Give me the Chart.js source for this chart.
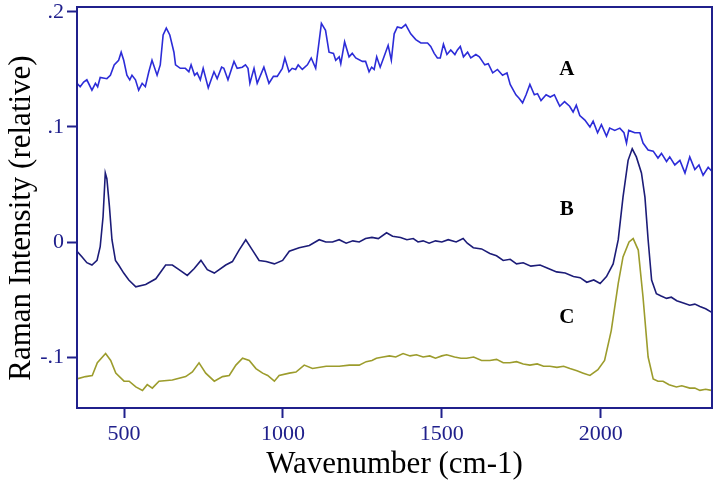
<!DOCTYPE html>
<html>
<head>
<meta charset="utf-8">
<script src="https://cdn.jsdelivr.net/npm/chart.js@4.4.1/dist/chart.umd.min.js"></script>
<style>
  html, body { margin: 0; padding: 0; background: #fff; }
  #wrap { width: 717px; height: 486px; }
</style>
</head>
<body>
<div id="wrap"><canvas id="chartCanvas" width="717" height="486"></canvas></div>
<script>
// spectrum A
const wnA = [352,362,373,383,399,410,417,425,446,457,
469,483,491,499,509,518,525,536,546,557,
567,578,588,604,614,623,633,644,657,662,
677,693,704,711,722,730,740,749,765,783,
793,807,814,827,846,856,872,882,890,896,
909,919,940,956,970,982,998,1006,1019,1029,
1040,1048,1061,1077,1089,1103,1121,1134,1145,1159,
1166,1177,1182,1194,1208,1218,1229,1250,1260,1271,
1279,1287,1295,1306,1318,1331,1341,1350,1360,1373,
1386,1402,1418,1434,1455,1465,1476,1486,1495,1505,
1516,1528,1541,1549,1558,1568,1581,1591,1607,1618,
1635,1646,1660,1675,1691,1705,1715,1733,1743,1754,
1765,1777,1791,1801,1812,1828,1841,1854,1864,1871,
1886,1902,1913,1923,1934,1950,1966,1976,1990,2002,
2018,2028,2044,2060,2073,2081,2088,2107,2123,2133,
2149,2165,2180,2191,2207,2217,2233,2249,2265,2280,
2296,2309,2322,2338,2348];
const ramanA = [.138,.135,.139,.141,.132,.138,.135,.143,.142,.145,
.154,.158,.165,.158,.145,.141,.145,.141,.132,.138,
.135,.148,.158,.145,.154,.180,.186,.180,.165,.154,
.151,.151,.148,.154,.145,.147,.141,.151,.134,.148,
.142,.152,.151,.141,.157,.151,.152,.154,.151,.138,
.151,.138,.152,.138,.144,.144,.151,.160,.148,.151,
.150,.154,.150,.154,.160,.151,.190,.184,.165,.164,
.158,.161,.155,.174,.161,.164,.160,.157,.157,.148,
.152,.150,.161,.152,.161,.171,.158,.181,.187,.186,
.189,.181,.176,.173,.173,.170,.164,.160,.160,.172,
.163,.167,.163,.167,.170,.161,.165,.160,.163,.161,
.154,.155,.147,.150,.145,.147,.137,.128,.125,.121,
.128,.137,.128,.129,.123,.128,.126,.128,.122,.118,
.122,.118,.113,.119,.110,.106,.100,.105,.095,.102,
.092,.099,.097,.099,.095,.086,.097,.095,.095,.086,
.080,.079,.073,.077,.070,.074,.067,.071,.060,.074,
.063,.067,.058,.065,.062];

// spectrum B
const wnB = [352,368,383,399,415,425,434,441,446,454,
462,473,483,499,515,537,568,600,631,652,
673,699,721,742,762,784,820,841,862,883,
904,925,947,973,999,1020,1051,1083,1114,1135,
1156,1177,1199,1220,1240,1260,1280,1300,1326,1345,
1370,1390,1410,1425,1441,1460,1480,1500,1520,1545,
1567,1580,1599,1625,1651,1672,1693,1715,1735,1756,
1780,1809,1835,1861,1888,1914,1935,1956,1978,1998,
2018,2039,2055,2070,2086,2099,2112,2128,2139,2149,
2160,2175,2190,2207,2222,2239,2260,2280,2296,2312,
2330,2348];
const ramanB = [-.008,-.013,-.018,-.020,-.016,-.004,.022,.060,.055,.031,
.002,-.016,-.020,-.027,-.033,-.039,-.037,-.032,-.020,-.020,
-.024,-.029,-.023,-.016,-.024,-.027,-.020,-.017,-.007,.002,
-.007,-.016,-.017,-.019,-.016,-.008,-.005,-.003,.002,.000,
.000,.002,-.001,.001,.000,.003,.004,.003,.008,.005,
.004,.002,.003,.000,.001,-.001,.001,.000,.002,.000,
.003,-.001,-.005,-.006,-.010,-.012,-.016,-.015,-.019,-.018,
-.021,-.020,-.023,-.026,-.027,-.030,-.031,-.035,-.033,-.036,
-.030,-.019,.002,.039,.071,.081,.074,.060,.039,.002,
-.033,-.045,-.047,-.049,-.048,-.051,-.053,-.055,-.054,-.056,
-.058,-.061];

// spectrum C
const wnC = [352,379,400,416,442,458,474,500,516,537,
558,573,589,610,652,694,715,736,757,784,
810,831,852,873,894,915,936,952,973,988,
1020,1041,1067,1093,1136,1177,1209,1240,1262,1280,
1294,1315,1335,1355,1378,1400,1420,1441,1462,1480,
1500,1515,1540,1560,1578,1600,1625,1651,1672,1693,
1714,1735,1756,1777,1800,1820,1840,1862,1883,1903,
1925,1945,1966,1991,2012,2033,2055,2070,2089,2102,
2118,2133,2149,2165,2180,2196,2215,2238,2255,2280,
2296,2312,2330,2348];
const ramanC = [-.119,-.117,-.116,-.105,-.097,-.103,-.114,-.121,-.121,-.126,
-.129,-.124,-.127,-.121,-.120,-.117,-.113,-.105,-.114,-.121,
-.117,-.116,-.107,-.101,-.103,-.110,-.114,-.116,-.121,-.116,
-.114,-.113,-.107,-.110,-.108,-.108,-.107,-.107,-.104,-.103,
-.101,-.100,-.099,-.100,-.097,-.099,-.098,-.100,-.099,-.101,
-.099,-.098,-.100,-.101,-.101,-.100,-.103,-.103,-.102,-.105,
-.105,-.104,-.106,-.107,-.106,-.108,-.108,-.109,-.108,-.110,
-.112,-.114,-.116,-.111,-.103,-.077,-.036,-.013,.000,.003,
-.007,-.048,-.100,-.119,-.121,-.121,-.124,-.126,-.125,-.127,
-.127,-.129,-.128,-.129];

const xTicks = [500, 1000, 1500, 2000];
const yTicks = [-0.1, 0, 0.1, 0.2];
const seriesNames = ["A", "B", "C"];
const yTitle = "Raman Intensity (relative)";

const navy = "#20208c";
const serif = "Liberation Serif";

function toPoints(xs, ys) {
    return xs.map((x, i) => ({ x: x, y: ys[i] }));
}

function yLabel(v) {
    if (Math.abs(v) < 1e-9) return "0";
    let s = Math.abs(v).toFixed(1).replace(/^0/, "");
    return (v < 0 ? "-" : "") + s;
}

// frame round the plot, the A/B/C letters and the y title
const framePlugin = {
    id: "frame",
    afterDraw(chart) {
        const ctx = chart.ctx;
        const a = chart.chartArea;
        ctx.save();
        ctx.strokeStyle = navy;
        ctx.lineWidth = 2;
        ctx.strokeRect(a.left, a.top, a.right - a.left, a.bottom - a.top);

        const xs = chart.scales.x, ys = chart.scales.y;
        const labelPos = [[1893, 0.150], [1893, 0.028], [1893, -0.066]];
        ctx.fillStyle = "#000";
        ctx.font = "bold 21px '" + serif + "'";
        ctx.textAlign = "center";
        ctx.textBaseline = "middle";
        seriesNames.forEach((n, i) => {
            ctx.fillText(n, xs.getPixelForValue(labelPos[i][0]), ys.getPixelForValue(labelPos[i][1]));
        });

        ctx.translate(22, 218);
        ctx.rotate(-Math.PI / 2);
        ctx.font = "31px '" + serif + "'";
        ctx.fillText(yTitle, 0, 0);
        ctx.restore();
    }
};

const ctx = document.getElementById("chartCanvas");

new Chart(ctx, {
    type: "line",
    data: {
        datasets: [
            { label: "A", data: toPoints(wnA, ramanA), borderColor: "#2c2cd8", borderWidth: 1.6 },
            { label: "B", data: toPoints(wnB, ramanB), borderColor: "#1c1c78", borderWidth: 1.6 },
            { label: "C", data: toPoints(wnC, ramanC), borderColor: "#9c9c2c", borderWidth: 1.6 }
        ]
    },
    options: {
        responsive: false,
        animation: false,
        elements: { point: { radius: 0 }, line: { tension: 0 } },
        layout: { padding: { top: 7, right: 5, left: 0, bottom: 0 } },
        plugins: { legend: { display: false }, tooltip: { enabled: false } },
        scales: {
            x: {
                type: "linear",
                min: 352,
                max: 2350,
                afterBuildTicks: s => { s.ticks = xTicks.map(v => ({ value: v })); },
                afterFit: s => { s.height = 78; s.paddingLeft = 0; s.paddingRight = 0; },
                border: { display: false },
                grid: { drawOnChartArea: false, drawTicks: true, tickLength: 10, tickColor: navy, tickWidth: 2 },
                ticks: { color: navy, font: { family: serif, size: 22 }, padding: 3, maxRotation: 0, callback: v => String(v) },
                title: { display: true, text: "Wavenumber (cm-1)", color: "#000", font: { family: serif, size: 31 }, padding: { top: 0, bottom: 3 } }
            },
            y: {
                type: "linear",
                min: -0.1443,
                max: 0.2043,
                afterBuildTicks: s => { s.ticks = yTicks.map(v => ({ value: v })); },
                afterFit: s => { s.width = 77; s.paddingTop = 0; s.paddingBottom = 0; },
                border: { display: false },
                grid: { drawOnChartArea: false, drawTicks: true, tickLength: 10, tickColor: navy, tickWidth: 2 },
                ticks: { color: navy, font: { family: serif, size: 22 }, padding: 3, callback: v => yLabel(v) }
            }
        }
    },
    plugins: [framePlugin]
});
</script>
</body>
</html>
